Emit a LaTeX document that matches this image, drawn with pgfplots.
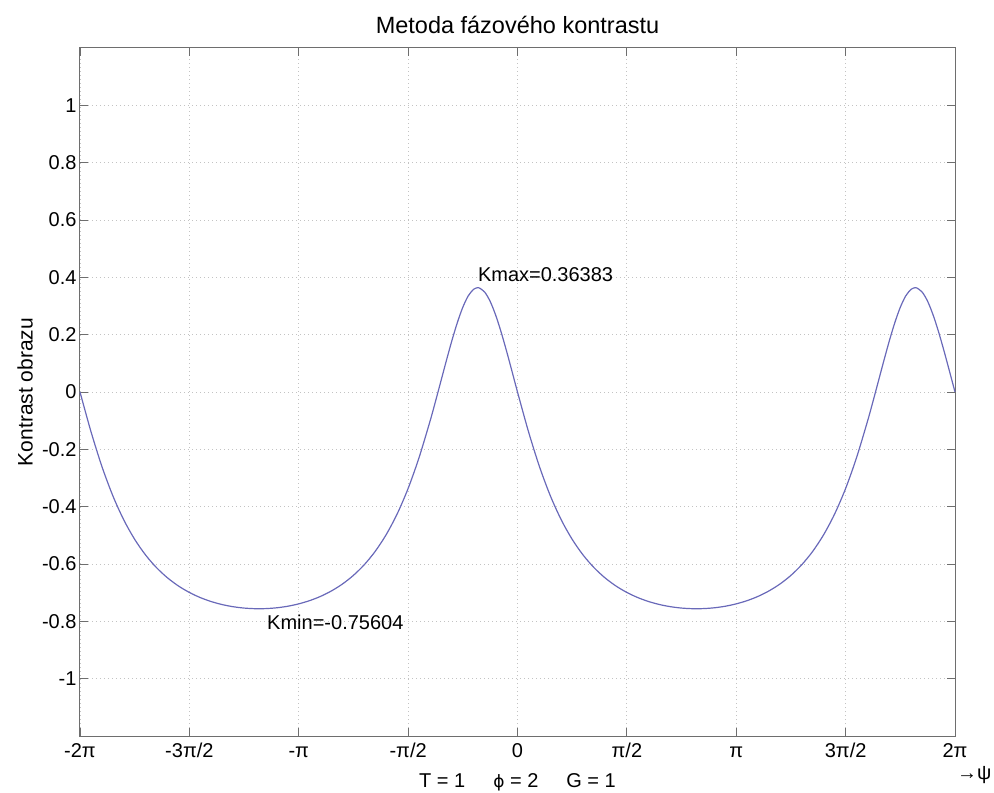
\documentclass[border=0pt]{standalone}
\usepackage{fontspec}
\setmainfont{Liberation Sans}
\newfontfamily\dejavu{DejaVu Sans}
\usepackage{pgfplots}
\pgfplotsset{compat=1.18}
\definecolor{Curve}{RGB}{105,105,185}
\definecolor{Frame}{RGB}{110,110,110}
\definecolor{GridC}{RGB}{195,195,195}
\pgfplotstableread{
x y
-6.2832 0
-6.1261 -0.13769
-5.9690 -0.25943
-5.8119 -0.36190
-5.6549 -0.44596
-5.4978 -0.51403
-5.3407 -0.56885
-5.1836 -0.61292
-5.0265 -0.64830
-4.8695 -0.67666
-4.7124 -0.69929
-4.5553 -0.71718
-4.3982 -0.73108
-4.2412 -0.74155
-4.0841 -0.74901
-3.9270 -0.75373
-3.7699 -0.75588
-3.6128 -0.75555
-3.4558 -0.75272
-3.2987 -0.74729
-3.1416 -0.73906
-2.9845 -0.72772
-2.8274 -0.71281
-2.6704 -0.69373
-2.5133 -0.66968
-2.3562 -0.63958
-2.1991 -0.60205
-2.0420 -0.55533
-1.8850 -0.49723
-1.7279 -0.42515
-1.5708 -0.33636
-1.4137 -0.22870
-1.2566 -0.10213
-1.1781 -0.03301
-1.0996 0.03838
-1.0210 0.10999
-0.9425 0.17908
-0.8639 0.24224
-0.7854 0.29566
-0.7069 0.33554
-0.6283 0.35871
-0.5708 0.36383
-0.5498 0.36319
-0.4712 0.34855
-0.3927 0.31609
-0.3142 0.26852
-0.2356 0.20940
-0.1571 0.14261
-0.0785 0.07178
0.0000 0
0.1571 -0.13769
0.3142 -0.25943
0.4712 -0.36190
0.6283 -0.44596
0.7854 -0.51403
0.9425 -0.56885
1.0996 -0.61292
1.2566 -0.64830
1.4137 -0.67666
1.5708 -0.69929
1.7279 -0.71718
1.8850 -0.73108
2.0420 -0.74155
2.1991 -0.74901
2.3562 -0.75373
2.5133 -0.75588
2.6704 -0.75555
2.8274 -0.75272
2.9845 -0.74729
3.1416 -0.73906
3.2987 -0.72772
3.4558 -0.71281
3.6128 -0.69373
3.7699 -0.66968
3.9270 -0.63958
4.0841 -0.60205
4.2412 -0.55533
4.3982 -0.49723
4.5553 -0.42515
4.7124 -0.33636
4.8695 -0.22870
5.0265 -0.10213
5.1051 -0.03301
5.1836 0.03838
5.2622 0.10999
5.3407 0.17908
5.4193 0.24224
5.4978 0.29566
5.5763 0.33554
5.6549 0.35871
5.7124 0.36383
5.7334 0.36319
5.8119 0.34855
5.8905 0.31609
5.9690 0.26852
6.0476 0.20940
6.1261 0.14261
6.2046 0.07178
6.2832 0
}\kontrast
\begin{document}
\begin{tikzpicture}
\useasboundingbox (-80pt,-57pt) rectangle (914pt,736pt);
\begin{axis}[
  at={(0pt,0pt)},anchor=south west,
  scale only axis,width=875pt,height=688pt,
  font=\fontsize{20}{24}\selectfont,
  xmin=-6.283185,xmax=6.283185,ymin=-1.2,ymax=1.2,
  xtick={-6.283185,-4.712389,-3.141593,-1.570796,0,1.570796,3.141593,4.712389,6.283185},
  xticklabels={-2π,-3π/2,-π,-π/2,0,π/2,π,3π/2,2π},
  xticklabel style={anchor=base,yshift=-21pt},
  ytick={-1,-0.8,-0.6,-0.4,-0.2,0,0.2,0.4,0.6,0.8,1},
  yticklabels={-1,-0.8,-0.6,-0.4,-0.2,0,0.2,0.4,0.6,0.8,1},
  tick align=inside,xtick pos=both,ytick pos=both,
  major tick length=8pt,
  tick style={Frame,line width=0.8pt},
  axis line style={Frame,line width=1pt},
  grid=major,
  grid style={GridC,line width=0.8pt,dash pattern=on 1.2pt off 2.8pt},
  title={Metoda fázového kontrastu},
  title style={at={(rel axis cs:0.5,1)},anchor=base,yshift=8pt,inner sep=0pt,font=\fontsize{23.5}{28}\selectfont},
  xlabel={T = 1\hspace{1.4em}{\dejavu\fontsize{17}{20}\selectfont ϕ} = 2\hspace{1.4em}G = 1},
  xlabel style={at={(rel axis cs:0.5,0)},anchor=base,yshift=-51pt,inner sep=0pt},
  ylabel={Kontrast obrazu},
  ylabel style={at={(rel axis cs:0,0.5)},anchor=center,yshift=55pt,inner sep=0pt,font=\fontsize{21}{25}\selectfont},
  clip=false,
]
\addplot[Curve,line width=1.2pt,smooth] table {\kontrast};
\node[anchor=west,inner sep=0pt] at (axis cs:-0.57,0.408) {Kmax=0.36383};
\node[anchor=west,inner sep=0pt] at (axis cs:-3.597,-0.802) {Kmin=-0.75604};
\node[anchor=base west,inner sep=0pt] at ([xshift=2pt,yshift=-43pt]rel axis cs:1,0) {→ψ};
\end{axis}
\end{tikzpicture}
\end{document}
